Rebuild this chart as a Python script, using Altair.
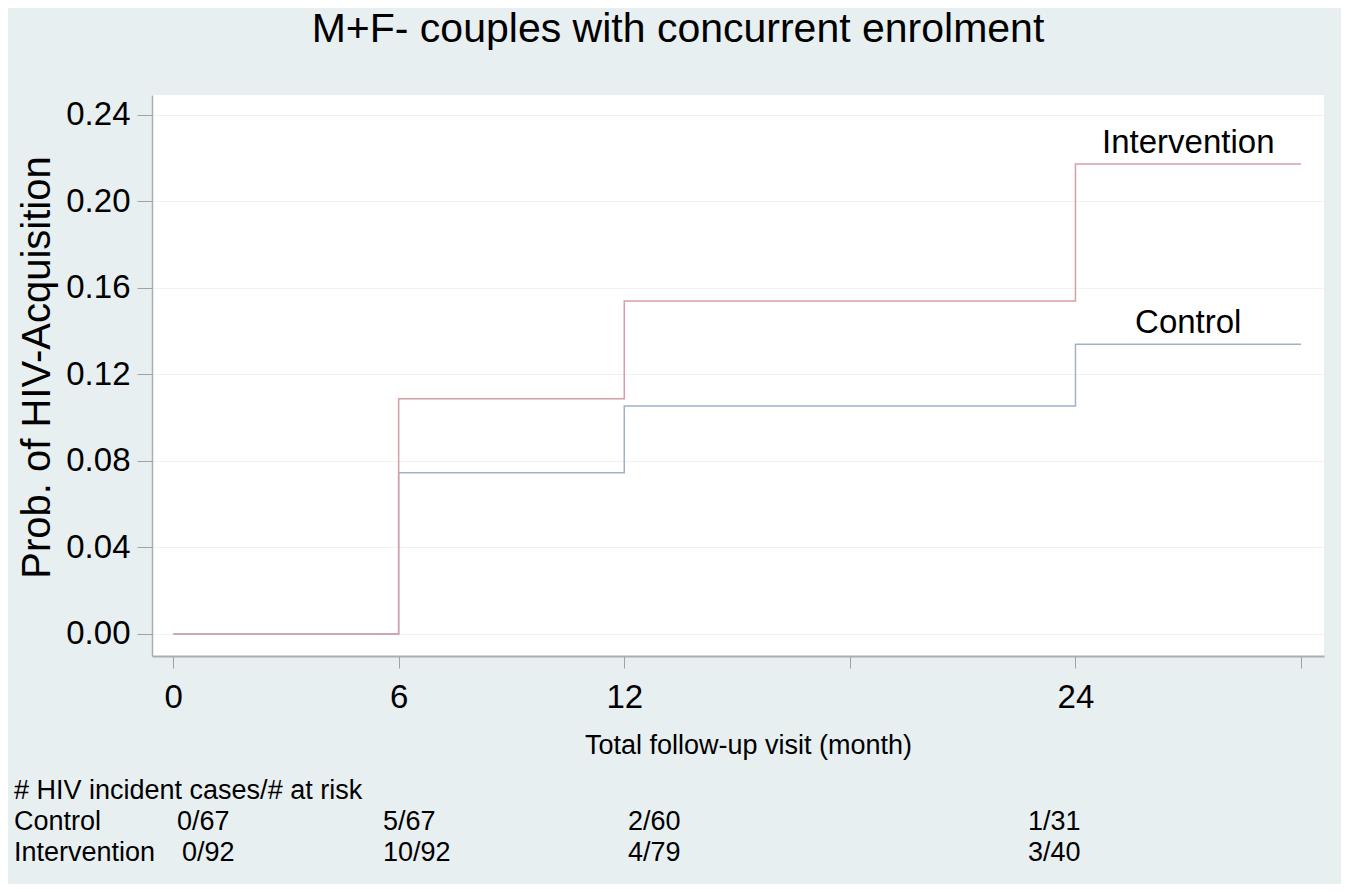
import altair as alt
import pandas as pd

# ---- data ----
months = [0, 6, 12, 24, 30]
intervention = [0.0, 0.1087, 0.1540, 0.2173, 0.2173]
control = [0.0, 0.0745, 0.1054, 0.1340, 0.1340]
series_names = ["Control", "Intervention"]

x_ticks = [0, 6, 12, 18, 24, 30]
x_tick_labels = ["0", "6", "12", "", "24", ""]
y_ticks = [0.0, 0.04, 0.08, 0.12, 0.16, 0.20, 0.24]

table_header = "# HIV incident cases/# at risk"
table_rows = ["Control", "Intervention"]
control_counts = ["0/67", "5/67", "2/60", "1/31"]
intervention_counts = ["0/92", "10/92", "4/79", "3/40"]

# ---- styles / layout ----
BG = "#e8eff1"
COL_INT = "#d89ea6"
COL_CTL = "#9fb3c7"
FONT = "Liberation Sans"
W, H = 1172, 561
ctl_px = [25, 231, 476, 876]
int_px = [30, 231, 476, 876]
row_label_px = -138
row_py = [727, 758]
header_py = 696

df = pd.DataFrame({
    "month": months * 2,
    "prob": control + intervention,
    "group": ["Control"] * len(months) + ["Intervention"] * len(months),
})

label_expr = "{" + ",".join(f"'{t}':'{l}'" for t, l in zip(x_ticks, x_tick_labels)) + "}[datum.value]"

x_enc = alt.X("month:Q", scale=alt.Scale(domain=[-0.56, 30.61], nice=False, zero=False),
              axis=alt.Axis(values=x_ticks, labelExpr=label_expr, title="Total follow-up visit (month)",
                            grid=False, tickSize=12, labelPadding=13, labelFontSize=33,
                            labelBaseline="top", labelFont=FONT, labelColor="#000000",
                            titleFont=FONT, titleFontSize=27, titleFontWeight="normal",
                            titleColor="#000000", titleX=596, titleY=89, titleBaseline="middle",
                            domainColor="#a9aeb0", domainWidth=2, tickColor="#9ea3a5",
                            labelFlush=False))
y_enc = alt.Y("prob:Q", scale=alt.Scale(domain=[-0.0102, 0.2492], nice=False, zero=False),
              axis=alt.Axis(values=y_ticks, format=".2f", title="Prob. of HIV-Acquisition",
                            grid=True, gridColor="#eef2f3", gridWidth=1,
                            tickSize=15, labelPadding=7, labelFontSize=33, labelFont=FONT,
                            labelColor="#000000", labelBaseline="middle",
                            titleFont=FONT, titleFontSize=40, titleFontWeight="normal",
                            titleColor="#000000", titleAngle=270, titleX=-115, titleY=272,
                            titleAlign="center", titleBaseline="middle",
                            domainColor="#a9aeb0", domainWidth=1.5, tickColor="#9ea3a5",
                            labelFlush=False))

lines = alt.Chart(df).mark_line(interpolate="step-after", strokeWidth=1.5).encode(
    x=x_enc, y=y_enc,
    color=alt.Color("group:N", scale=alt.Scale(domain=series_names, range=[COL_CTL, COL_INT]), legend=None),
    order=alt.Order("group:N"),
    detail="group:N",
)

lab_df = pd.DataFrame({
    "month": [27, 27],
    "prob": [intervention[-1], control[-1]],
    "name": ["Intervention", "Control"],
})
line_labels = alt.Chart(lab_df).mark_text(font=FONT, fontSize=33, color="#000000",
                                          baseline="middle", dy=-21).encode(
    x="month:Q", y="prob:Q", text="name:N")

texts = []
def add_text(s, px, py):
    texts.append(alt.Chart(pd.DataFrame({"t": [s]})).mark_text(
        font=FONT, fontSize=27, color="#000000", align="left", baseline="middle").encode(
        x=alt.value(px), y=alt.value(py), text="t:N"))

add_text(table_header, row_label_px, header_py)
for name, py in zip(table_rows, row_py):
    add_text(name, row_label_px, py)
for s, px in zip(control_counts, ctl_px):
    add_text(s, px, row_py[0])
for s, px in zip(intervention_counts, int_px):
    add_text(s, px, row_py[1])

chart = alt.layer(lines, line_labels, *texts).properties(
    width=W, height=H,
    title=alt.TitleParams("M+F- couples with concurrent enrolment", font=FONT, fontSize=41,
                          fontWeight="normal", color="#000000", anchor="middle", dx=-60,
                          offset=44),
    background=BG,
    padding={"left": 144, "top": 87, "right": 17, "bottom": 228},
    autosize=alt.AutoSizeParams(type="none"),
).configure_view(fill="white", stroke=None)

chart.save("out.html", embed_options={"renderer": "svg", "actions": False})
